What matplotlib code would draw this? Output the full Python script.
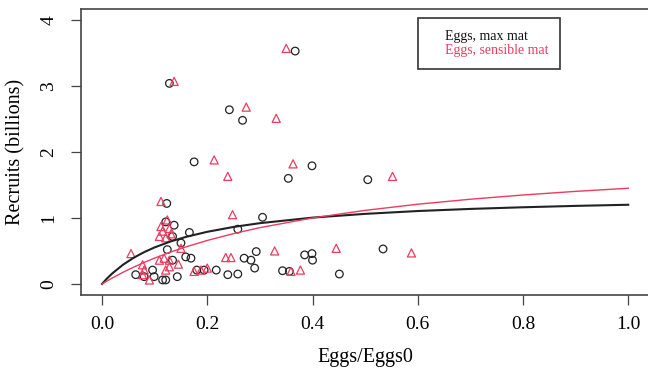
import matplotlib
matplotlib.use("Agg")
import matplotlib.pyplot as plt
from matplotlib.lines import Line2D

plt.rcParams['font.family'] = ['Liberation Serif', 'DejaVu Serif']

# spawning biomass (relative) and recruits, max maturity assumption
max_x = [0.367, 0.128, 0.242, 0.267, 0.175, 0.354, 0.399, 0.505, 0.123, 0.305,
         0.121, 0.137, 0.258, 0.166, 0.134, 0.150, 0.124, 0.534, 0.293, 0.399,
         0.385, 0.283, 0.270, 0.159, 0.169, 0.134, 0.400, 0.064, 0.080, 0.096,
         0.099, 0.115, 0.121, 0.143, 0.180, 0.194, 0.217, 0.239, 0.258, 0.290,
         0.343, 0.356, 0.451]
max_y = [3.53, 3.04, 2.64, 2.48, 1.85, 1.60, 1.79, 1.58, 1.22, 1.01,
         0.94, 0.89, 0.83, 0.78, 0.72, 0.62, 0.52, 0.53, 0.49, 0.46,
         0.44, 0.36, 0.39, 0.41, 0.39, 0.36, 0.36, 0.14, 0.11, 0.21,
         0.11, 0.06, 0.06, 0.11, 0.21, 0.21, 0.21, 0.14, 0.15, 0.24,
         0.20, 0.19, 0.15]

# same recruits, sensible maturity assumption
sens_x = [0.350, 0.137, 0.274, 0.331, 0.213, 0.239, 0.363, 0.552, 0.112, 0.248,
          0.124, 0.112, 0.128, 0.115, 0.109, 0.121, 0.131, 0.150, 0.055, 0.118,
          0.128, 0.109, 0.077, 0.235, 0.245, 0.328, 0.445, 0.588, 0.080, 0.090,
          0.121, 0.128, 0.077, 0.175, 0.188, 0.200, 0.359, 0.377, 0.145]
sens_y = [3.57, 3.07, 2.68, 2.51, 1.88, 1.63, 1.82, 1.63, 1.25, 1.05,
          0.97, 0.87, 0.84, 0.80, 0.72, 0.70, 0.76, 0.54, 0.46, 0.39,
          0.36, 0.36, 0.29, 0.40, 0.40, 0.50, 0.54, 0.47, 0.21, 0.06,
          0.21, 0.26, 0.14, 0.19, 0.21, 0.24, 0.19, 0.21, 0.30]

# fitted stock-recruit curves
curve_x = [0, 0.01, 0.02, 0.04, 0.06, 0.08, 0.10, 0.13, 0.16, 0.20,
           0.25, 0.30, 0.40, 0.50, 0.60, 0.70, 0.80, 0.90, 1.00]
curve_max = [0, 0.087, 0.163, 0.292, 0.396, 0.482, 0.554, 0.643, 0.714, 0.790,
             0.864, 0.921, 1.005, 1.062, 1.105, 1.137, 1.162, 1.183, 1.200]
curve_sens = [0, 0.047, 0.092, 0.177, 0.254, 0.326, 0.392, 0.482, 0.563, 0.659,
              0.763, 0.853, 1.000, 1.115, 1.208, 1.284, 1.348, 1.403, 1.450]

red = '#ec3b5e'

fig = plt.figure(figsize=(6.48, 3.68), dpi=100)
ax = fig.add_axes([0.125, 0.198, 0.877, 0.778])

ax.scatter(max_x, max_y, s=30, facecolors='none', edgecolors='#222222', linewidths=0.9, marker='o', zorder=3)
ax.scatter(sens_x, sens_y, s=34, facecolors='none', edgecolors=red, linewidths=0.9, marker='^', zorder=3)
ax.plot(curve_x, curve_max, color='#222222', lw=1.5, zorder=4)
ax.plot(curve_x, curve_sens, color=red, lw=1.0, zorder=4)

ax.set_xlim(-0.04, 1.04)
ax.set_ylim(-0.17, 4.17)
ax.set_xticks([0.0, 0.2, 0.4, 0.6, 0.8, 1.0])
ax.set_xticklabels(['0.0', '0.2', '0.4', '0.6', '0.8', '1.0'])
ax.set_yticks([0, 1, 2, 3, 4])
ax.tick_params(axis='both', direction='out', length=7, width=0.9, labelsize=14, color='#444444')
ax.tick_params(axis='x', pad=8)
ax.tick_params(axis='y', pad=10)
for lab in ax.get_yticklabels():
    lab.set_rotation(90)
    lab.set_va('center')
for sp in ax.spines.values():
    sp.set_linewidth(1.2)
    sp.set_color('#444444')

ax.set_xlabel('Eggs/Eggs0', fontsize=14.5, labelpad=11)
ax.set_ylabel('Recruits (billions)', fontsize=14.5, labelpad=11)

handles = [Line2D([], [], linestyle='none'), Line2D([], [], linestyle='none')]
leg = ax.legend(handles, ['Eggs, max mat', 'Eggs, sensible mat'], loc='upper left',
                bbox_to_anchor=(0.593, 0.969), fontsize=10, handlelength=0.8,
                handletextpad=0.3, labelcolor=['#111111', red], fancybox=False,
                edgecolor='#333333', framealpha=1, borderpad=0.85, labelspacing=0.1,
                borderaxespad=0)
leg.get_frame().set_linewidth(1.2)

fig.savefig('out.png', dpi=100)
